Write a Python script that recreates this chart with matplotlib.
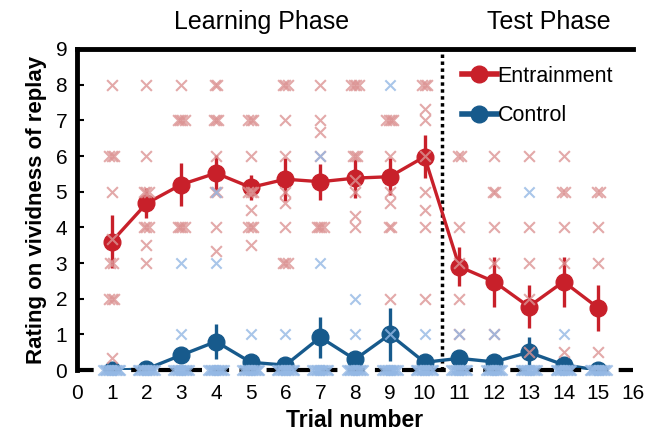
import matplotlib
matplotlib.use("Agg")
import matplotlib.pyplot as plt
from matplotlib.lines import Line2D
import numpy as np

plt.rcParams['font.family'] = ['Liberation Sans', 'DejaVu Sans']

trials = list(range(1, 16))
xticks = list(range(0, 17))
yticks = list(range(0, 10))

ent_mean = [3.6, 4.67, 5.2, 5.52, 5.12, 5.35, 5.28, 5.38, 5.42, 5.98, 2.9, 2.48, 1.78, 2.48, 1.74]
ent_err = [0.75, 0.42, 0.6, 0.5, 0.35, 0.6, 0.5, 0.55, 0.52, 0.6, 0.55, 0.7, 0.6, 0.7, 0.65]
ctl_mean = [0.0, 0.03, 0.42, 0.8, 0.22, 0.14, 0.92, 0.3, 1.0, 0.22, 0.33, 0.23, 0.5, 0.15, 0.0]
ctl_err = [0.0, 0.05, 0.22, 0.5, 0.1, 0.1, 0.57, 0.15, 0.73, 0.1, 0.15, 0.1, 0.43, 0.08, 0.0]

ent_pts = [
    [8, 6, 6, 6, 5, 3.67, 3, 3, 2, 2, 2, 0.33],
    [8, 6, 5, 5, 5, 4, 4, 4, 3.5, 3],
    [8, 7, 7, 7, 7, 4, 4, 4, 4],
    [8, 8, 7, 7, 7, 6, 5, 5, 4, 3.33],
    [7, 7, 7, 6, 5, 5, 5, 4.5, 4, 4, 4, 3.5],
    [8, 8, 8, 7, 6, 5, 4.67, 4, 3, 3, 3],
    [8, 7, 6.67, 6, 4, 4, 4, 4],
    [8, 8, 8, 8, 6, 6, 6, 5.33, 5, 4.33, 4],
    [7, 7, 7, 7, 6, 5, 4.67, 4, 4, 2],
    [8, 8, 8, 7.33, 7, 6, 5, 4.5, 4, 2],
    [6, 6, 4, 3, 2, 1],
    [6, 5, 5, 4, 3, 1],
    [6, 4, 3, 2, 0.5],
    [6, 5, 5, 4, 3, 0.5],
    [5, 5, 4, 3, 0.5],
]
ctl_pts = [
    [], [], [3, 1], [5, 3], [1], [1], [6, 3], [2, 1], [8, 1], [1], [1], [1], [5], [1], [],
]
ctl_zero_n = [12, 12, 11, 11, 12, 12, 11, 11, 11, 12, 11, 11, 11, 11, 12]

red = '#c8202a'
blue = '#175a8c'
red_lt = '#dc9494'
blue_lt = '#94b8e4'

fig = plt.figure(figsize=(6.52, 4.37), dpi=100)
ax = fig.add_axes([0.118, 0.153, 0.853, 0.735])


def spread(vals, step):
    xs_off = []
    ys = []
    uniq = {}
    for v in vals:
        uniq[v] = uniq.get(v, 0) + 1
    for v, n in uniq.items():
        for i in range(n):
            xs_off.append((i - (n - 1) / 2) * step)
            ys.append(v)
    return xs_off, ys

# means and error bars
ax.errorbar(trials, ent_mean, yerr=ent_err, color=red, lw=2.4, elinewidth=2.4,
            marker='o', ms=12, capsize=0, zorder=3)
ax.errorbar(trials, ctl_mean, yerr=ctl_err, color=blue, lw=2.4, elinewidth=2.4,
            marker='o', ms=12, capsize=0, zorder=3)

# baseline and phase divider
ax.axhline(0, color='black', lw=3, ls=(0, (4, 2.5)), zorder=5, clip_on=False)
ax.axvline(10.5, color='black', lw=2.5, ls=(0, (1, 1)), zorder=2)

# individual points
for t, pts in zip(trials, ent_pts):
    off, ys = spread(pts, 0.07)
    ax.scatter(np.array(off) + t, ys, marker='x', s=60, color=red_lt, alpha=0.8,
               linewidths=1.5, zorder=4)
for t, pts, nz in zip(trials, ctl_pts, ctl_zero_n):
    off, ys = spread(pts + [0] * nz, 0.045)
    ax.scatter(np.array(off) + t, ys, marker='x', s=55, color=blue_lt, alpha=0.8,
               linewidths=1.5, zorder=6, clip_on=False)

ax.set_xlim(0, 16)
ax.set_ylim(0, 9)
ax.set_xticks(xticks)
ax.set_yticks(yticks)
ax.tick_params(axis='x', length=0, labelsize=15, pad=10)
ax.tick_params(axis='y', direction='in', length=5, width=1.5, labelsize=15, pad=7)

for s in ['right', 'bottom']:
    ax.spines[s].set_visible(False)
ax.spines['left'].set_linewidth(3.5)
ax.spines['top'].set_linewidth(3.5)

ax.set_xlabel('Trial number', fontsize=16.5, fontweight='bold', labelpad=4)
ax.set_ylabel('Rating on vividness of replay', fontsize=16, fontweight='bold', labelpad=6)

ax.text(5.3, 9.75, 'Learning Phase', ha='center', va='center', fontsize=18)
ax.text(13.58, 9.75, 'Test Phase', ha='center', va='center', fontsize=18)

handles = [
    Line2D([], [], color=red, lw=4, marker='o', ms=12),
    Line2D([], [], color=blue, lw=4, marker='o', ms=12),
]
ax.legend(handles, ['Entrainment', 'Control'], loc='upper left',
          bbox_to_anchor=(0.677, 0.974), frameon=False,
          fontsize=15.5, handlelength=1.6, handletextpad=0.05, labelspacing=0.85,
          borderaxespad=0)

fig.savefig('out.png', dpi=100)
